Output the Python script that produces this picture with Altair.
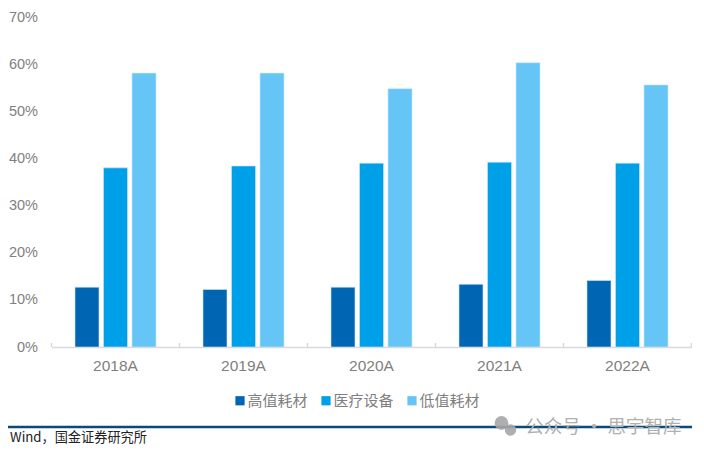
import altair as alt
import pandas as pd

years = ["2018A", "2019A", "2020A", "2021A", "2022A"]
series = ["高值耗材", "医疗设备", "低值耗材"]
high = [12.7, 12.2, 12.7, 13.3, 14.1]
equip = [38.0, 38.4, 39.0, 39.2, 39.0]
low = [58.1, 58.1, 54.8, 60.3, 55.6]
colors = ["#0066B3", "#00A0E9", "#66C5F7"]
source = "Wind，国金证券研究所"
watermark = "公众号 · 思宇智库"

rows = []
for name, vals in zip(series, [high, equip, low]):
    for y, v in zip(years, vals):
        rows.append({"year": y, "series": name, "value": v})
df = pd.DataFrame(rows)

GRAY = "#7f7f7f"
CJK = "Noto Sans CJK SC"
W, H = 640, 330

xs = alt.Scale(domain=years, paddingInner=0, paddingOuter=0)
bars = alt.Chart(df).mark_bar(stroke="#cfe6f7", strokeWidth=0.6).encode(
    x=alt.X("year:N", scale=xs, sort=years, title=None,
            axis=alt.Axis(labelAngle=0, labelFont="Liberation Sans", labelFontSize=15.5,
                          labelColor=GRAY, labelPadding=11, ticks=False,
                          domainColor="#d9d9d9", domainWidth=1.5, grid=False)),
    xOffset=alt.XOffset("series:N", sort=series,
                        scale=alt.Scale(domain=series, paddingInner=0.158, paddingOuter=0.824)),
    y=alt.Y("value:Q", scale=alt.Scale(domain=[0, 70]), title=None,
            axis=alt.Axis(values=list(range(0, 71, 10)), format=".0f",
                          labelExpr="datum.label + '%'", labelFont="Liberation Sans",
                          labelFontSize=14.5, labelColor=GRAY, labelPadding=14,
                          ticks=False, domain=False, grid=False)),
    color=alt.Color("series:N", sort=series,
                    scale=alt.Scale(domain=series, range=colors),
                    legend=alt.Legend(orient="none", direction="horizontal", title=None,
                                      legendX=181, legendY=46 + H,
                                      symbolType="square", symbolSize=85,
                                      symbolStrokeWidth=0, labelFont=CJK, labelFontSize=15,
                                      labelColor=GRAY, labelOffset=0, columnPadding=10)),
)


def single():
    return alt.Chart(pd.DataFrame({"k": [0]}))


edges = alt.Chart(pd.DataFrame({"year": years})).mark_rule(color="#d9d9d9", strokeWidth=1.5).encode(
    x=alt.X("year:N", scale=xs, sort=years, bandPosition=0),
    y=alt.value(H - 4), y2=alt.value(H),
)
end_tick = single().mark_rule(color="#d9d9d9", strokeWidth=1.5).encode(
    x=alt.value(W), y=alt.value(H - 4), y2=alt.value(H),
)
foot_rule = single().mark_rule(color="#0b4a78", strokeWidth=2.5).encode(
    x=alt.value(-44), x2=alt.value(644), y=alt.value(410),
)
foot_text = alt.Chart(pd.DataFrame({"t": [source]})).mark_text(
    align="right", baseline="middle", font=CJK, fontSize=13.2, color="#222222"
).encode(text="t:N", x=alt.value(95.5), y=alt.value(421))
mark_text = alt.Chart(pd.DataFrame({"t": [watermark]})).mark_text(
    align="right", baseline="middle", font=CJK, fontSize=18.5, color="#b0b0b0"
).encode(text="t:N", x=alt.value(630), y=alt.value(410))
icon_a = single().mark_point(
    filled=True, shape="circle", size=190, color="#a6a6a6", opacity=0.9
).encode(x=alt.value(450), y=alt.value(406))
icon_b = single().mark_point(
    filled=True, shape="circle", size=130, color="#a6a6a6", opacity=0.9
).encode(x=alt.value(459), y=alt.value(413))

chart = alt.layer(
    bars, edges, end_tick, foot_rule, icon_a, icon_b, mark_text, foot_text
).properties(
    width=W, height=H,
    autosize=alt.AutoSizeParams(type="none"),
    padding={"left": 43.5, "top": 9, "right": 0, "bottom": 99},
).configure_view(stroke=None)

chart.save("out.html", embed_options={"renderer": "svg", "actions": False})
